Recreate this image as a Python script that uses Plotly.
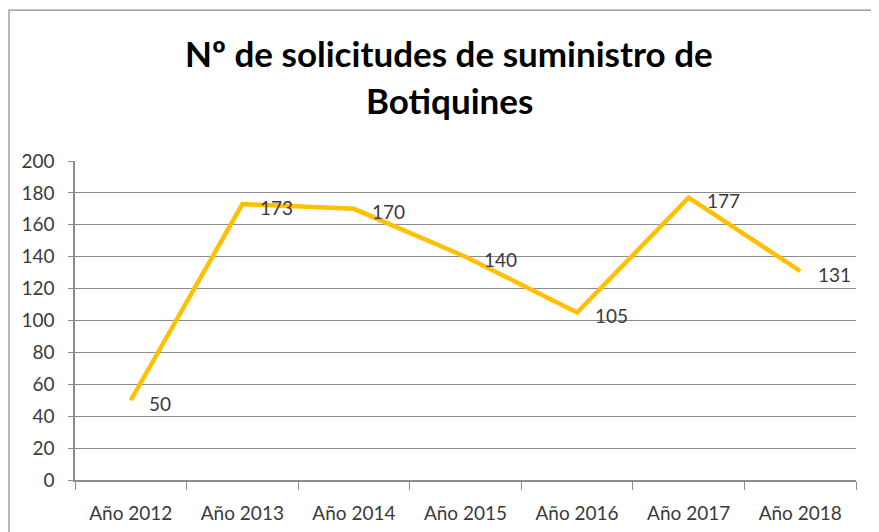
import plotly.graph_objects as go

anios = ["Año 2012", "Año 2013", "Año 2014", "Año 2015", "Año 2016", "Año 2017", "Año 2018"]
solicitudes = [50, 173, 170, 140, 105, 177, 131]
titulo_1 = "Nº de solicitudes de suministro de"
titulo_2 = "Botiquines"

font_name = "Lato"
grid_col = "#8c8c8c"
txt_col = "#3a3a3a"

fig = go.Figure()
fig.add_trace(go.Scatter(
    x=anios, y=solicitudes, mode="lines",
    line=dict(color="#FFC000", width=4.5),
    hoverinfo="x+y", showlegend=False,
))

# etiquetas de datos a la derecha de cada punto
for a, v in zip(anios, solicitudes):
    fig.add_annotation(x=a, y=v, text=str(v), showarrow=False,
                       xanchor="left", yanchor="middle", xshift=16, yshift=-3,
                       font=dict(family=font_name, size=19, color=txt_col))

# titulo en dos lineas
fig.add_annotation(xref="paper", yref="paper", x=0.479, y=1.339, text="<b>" + titulo_1 + "</b>",
                   showarrow=False, xanchor="center", yanchor="middle",
                   font=dict(family=font_name, size=35, color="#000000"))
fig.add_annotation(xref="paper", yref="paper", x=0.479, y=1.191, text="<b>" + titulo_2 + "</b>",
                   showarrow=False, xanchor="center", yanchor="middle",
                   font=dict(family=font_name, size=35, color="#000000"))

# borde del grafico
fig.add_shape(type="rect", xref="paper", yref="paper", x0=-0.0845, y0=-0.4, x1=1.2, y1=1.473,
              line=dict(color="#8a8a8a", width=1.2), fillcolor="rgba(0,0,0,0)", layer="below")

fig.update_layout(
    width=879, height=532,
    margin=dict(l=67, r=31, t=153, b=60),
    paper_bgcolor="white", plot_bgcolor="white",
    font=dict(family=font_name, size=19, color=txt_col),
    xaxis=dict(
        type="category", range=[-0.5, 6.5], tickson="boundaries",
        ticks="outside", ticklen=8, tickcolor=grid_col,
        showline=True, linecolor=grid_col, linewidth=1.5,
        showgrid=False, ticklabelstandoff=15,
        tickfont=dict(family=font_name, size=19, color=txt_col),
    ),
    yaxis=dict(
        range=[0, 200], dtick=20, ticks="outside", ticklen=5, tickcolor=grid_col,
        showline=True, linecolor=grid_col, linewidth=1.5,
        showgrid=True, gridcolor=grid_col, gridwidth=1.2, zeroline=False,
        ticklabelstandoff=10,
        tickfont=dict(family=font_name, size=19, color=txt_col),
    ),
)

fig.write_html("out.html")
